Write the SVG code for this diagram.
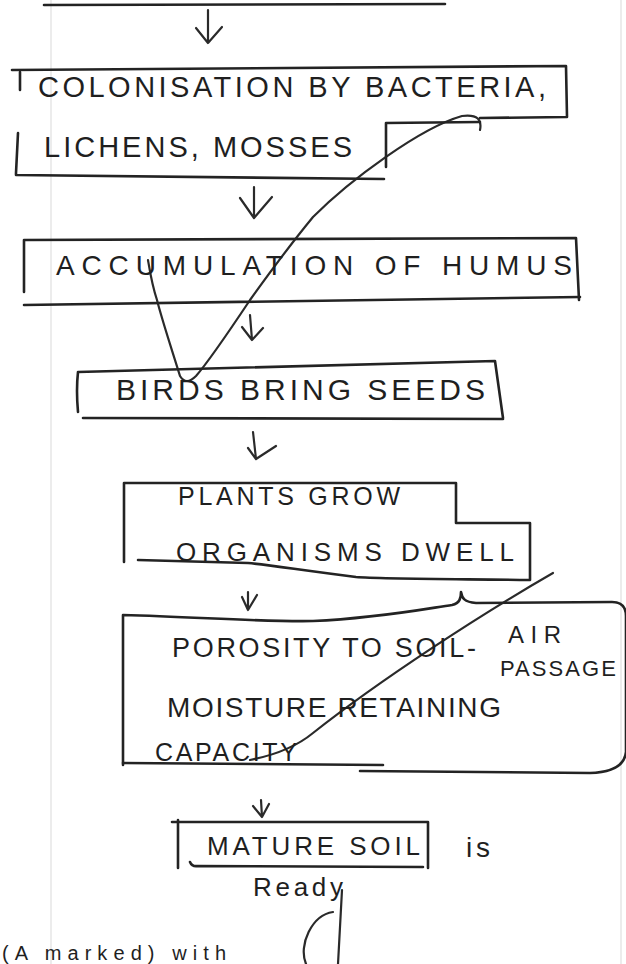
<svg xmlns="http://www.w3.org/2000/svg" width="626" height="964" viewBox="0 0 626 964">
<style>
.ln{fill:none;stroke:#232323;stroke-width:2.6;stroke-linecap:round;stroke-linejoin:round}
.cn{fill:none;stroke:#2a2a2a;stroke-width:2.2;stroke-linecap:round;stroke-linejoin:round}
.t{font-family:"Liberation Sans",Arial,sans-serif;fill:#1f1f1f}
.paper{stroke:#ececec;stroke-width:2}
</style>
<rect width="626" height="964" fill="#ffffff"/>
<line class="paper" x1="51" y1="0" x2="51" y2="964"/>
<line class="paper" x1="621" y1="0" x2="621" y2="964"/>

<g id="connectors">
  <path class="ln" d="M44,5 L445,4"/>
  <path class="cn" d="M208,10 L208,43 M196,28 L208,43 L222,27"/>
  <path class="cn" d="M254,187 L254,218 M240,198 L254,218 L272,197"/>
  <path class="cn" d="M250,315 L252,340 M242,327 L252,340 L263,328"/>
  <path class="cn" d="M253,432 L256,459 L276,446 M248,448 L256,459"/>
  <path class="cn" d="M248,592 L248,610 M242,597 L248,610 L257,595"/>
  <path class="cn" d="M261,800 L262,817 M253,806 L262,817 L269,804"/>
  <path class="cn" d="M480,130 C482,120 478,114 462,116 C420,128 350,180 313,217 C290,245 270,272 250,300 C230,330 210,360 196,376 Q186,386 180,376 C172,350 162,320 157,300 C152,285 150,272 148,260"/>
  <path class="cn" d="M553,573 C480,615 380,680 313,733 Q290,752 250,760"/>
  <path class="cn" d="M342,890 L338,964 M333,912 C312,915 298,945 306,964"/>
</g>

<g id="node-colonisation">
  <path class="ln" d="M12,70 L566,66 L567,117 L480,118"/>
  <path class="ln" d="M480,122 L386,123 L386,167"/>
  <path class="ln" d="M20,72 L20,90 M18,133 L16,173 L16,175 L384,179"/>
  <text class="t" x="38" y="97" font-size="29" textLength="508" lengthAdjust="spacing">COLONISATION BY BACTERIA,</text>
  <text class="t" x="44" y="157" font-size="29" textLength="308" lengthAdjust="spacing">LICHENS, MOSSES</text>
</g>

<g id="node-humus">
  <path class="ln" d="M24,292 L24,240 L576,238 L579,300"/>
  <path class="ln" d="M24,305 L580,297"/>
  <text class="t" x="56" y="275" font-size="28" textLength="516" lengthAdjust="spacing">ACCUMULATION OF HUMUS</text>
</g>

<g id="node-birds">
  <path class="ln" d="M78,412 Q76,390 78,372 L495,361 L503,418"/>
  <path class="ln" d="M83,418 L503,419"/>
  <text class="t" x="116" y="400" font-size="30" textLength="369" lengthAdjust="spacing">BIRDS BRING SEEDS</text>
</g>

<g id="node-plants">
  <path class="ln" d="M124,562 L124,483 L456,483 L456,523 L530,523 L530,580 C450,579 380,579 356,577 C300,570 270,565 248,563 L138,560"/>
  <text class="t" x="178" y="505" font-size="25" textLength="222" lengthAdjust="spacing">PLANTS GROW</text>
  <text class="t" x="176" y="561" font-size="26" textLength="338" lengthAdjust="spacing">ORGANISMS DWELL</text>
</g>

<g id="node-porosity">
  <path class="ln" d="M123,765 L123,615 C200,617 260,622 313,621 C380,618 430,608 452,605 C460,603 461,598 461,592 C462,598 464,602 476,603 L612,602 Q626,602 626,616 L626,752 Q624,772 590,773 L360,771"/>
  <path class="ln" d="M123,763 L383,765"/>
  <text class="t" x="172" y="657" font-size="27" textLength="304" lengthAdjust="spacing">POROSITY TO SOIL-</text>
  <text class="t" x="508" y="643" font-size="24" textLength="53" lengthAdjust="spacing">AIR</text>
  <text class="t" x="500" y="676" font-size="22" textLength="116" lengthAdjust="spacing">PASSAGE</text>
  <text class="t" x="167" y="717" font-size="28" textLength="334" lengthAdjust="spacing">MOISTURE RETAINING</text>
  <text class="t" x="155" y="761" font-size="25" textLength="142" lengthAdjust="spacing">CAPACITY</text>
</g>

<g id="node-mature">
  <path class="ln" d="M172,822 L428,822 M178,820 L178,868 M428,822 L428,868 M190,862 Q192,867 198,866 L423,867"/>
  <text class="t" x="207" y="855" font-size="26" textLength="213" lengthAdjust="spacing">MATURE SOIL</text>
  <text class="t" x="466" y="857" font-size="28" textLength="24" lengthAdjust="spacing">is</text>
  <text class="t" x="253" y="896" font-size="26" textLength="90" lengthAdjust="spacing">Ready</text>
</g>

<text class="t" x="2" y="960" font-size="20" textLength="224" lengthAdjust="spacing">(A marked) with</text>
</svg>
